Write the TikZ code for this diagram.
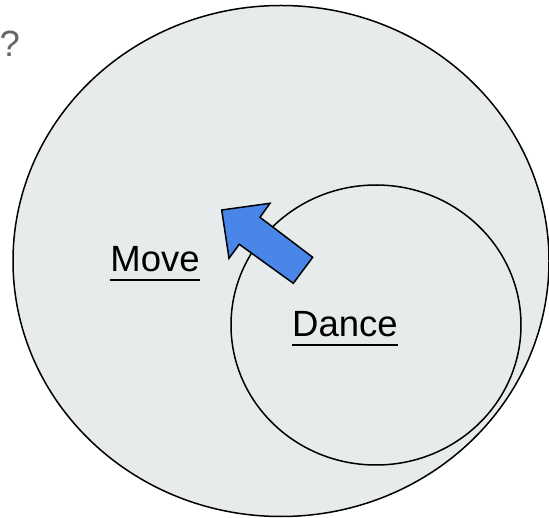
\documentclass[tikz,border=0pt]{standalone}
\usepackage{fontspec}
\setmainfont{Liberation Sans}
\usetikzlibrary{shapes.geometric}
\definecolor{fillgray}{HTML}{E8EBEC}
\definecolor{arrowblue}{HTML}{4A86E8}
\definecolor{qgray}{HTML}{666666}
\begin{document}
\begin{tikzpicture}[x=1pt,y=-1pt,
  setline/.style={draw=black,line width=1.5pt,fill=fillgray},
  lbl/.style={font=\fontsize{36.5}{44}\selectfont,inner sep=0pt,anchor=base},
  uline/.style={line width=2.7pt}]
\useasboundingbox (0,0) rectangle (549,518);
\node[setline,ellipse,minimum width=536pt,minimum height=511pt,inner sep=0pt] (move) at (281,261) {};
\node[setline,ellipse,minimum width=290pt,minimum height=280pt,inner sep=0pt] (dance) at (376,325) {};
\draw[line width=1.5pt,line join=miter,fill=arrowblue]
  (221.7,210) -- (270,203.3) -- (260,217.3) -- (312.7,257.3) -- (293.3,283.3) -- (239.3,244.3) -- (229,258.3) -- cycle;
\node[lbl,text=qgray,anchor=base west] (q) at (-0.5,57) {?};
\node[lbl] (movelbl) at (155,272) {Move};
\draw[uline] ([yshift=-8pt]movelbl.base west) -- ([yshift=-8pt]movelbl.base east);
\node[lbl] (dancelbl) at (345,337) {Dance};
\draw[uline] ([yshift=-8pt]dancelbl.base west) -- ([yshift=-8pt]dancelbl.base east);
\end{tikzpicture}
\end{document}
